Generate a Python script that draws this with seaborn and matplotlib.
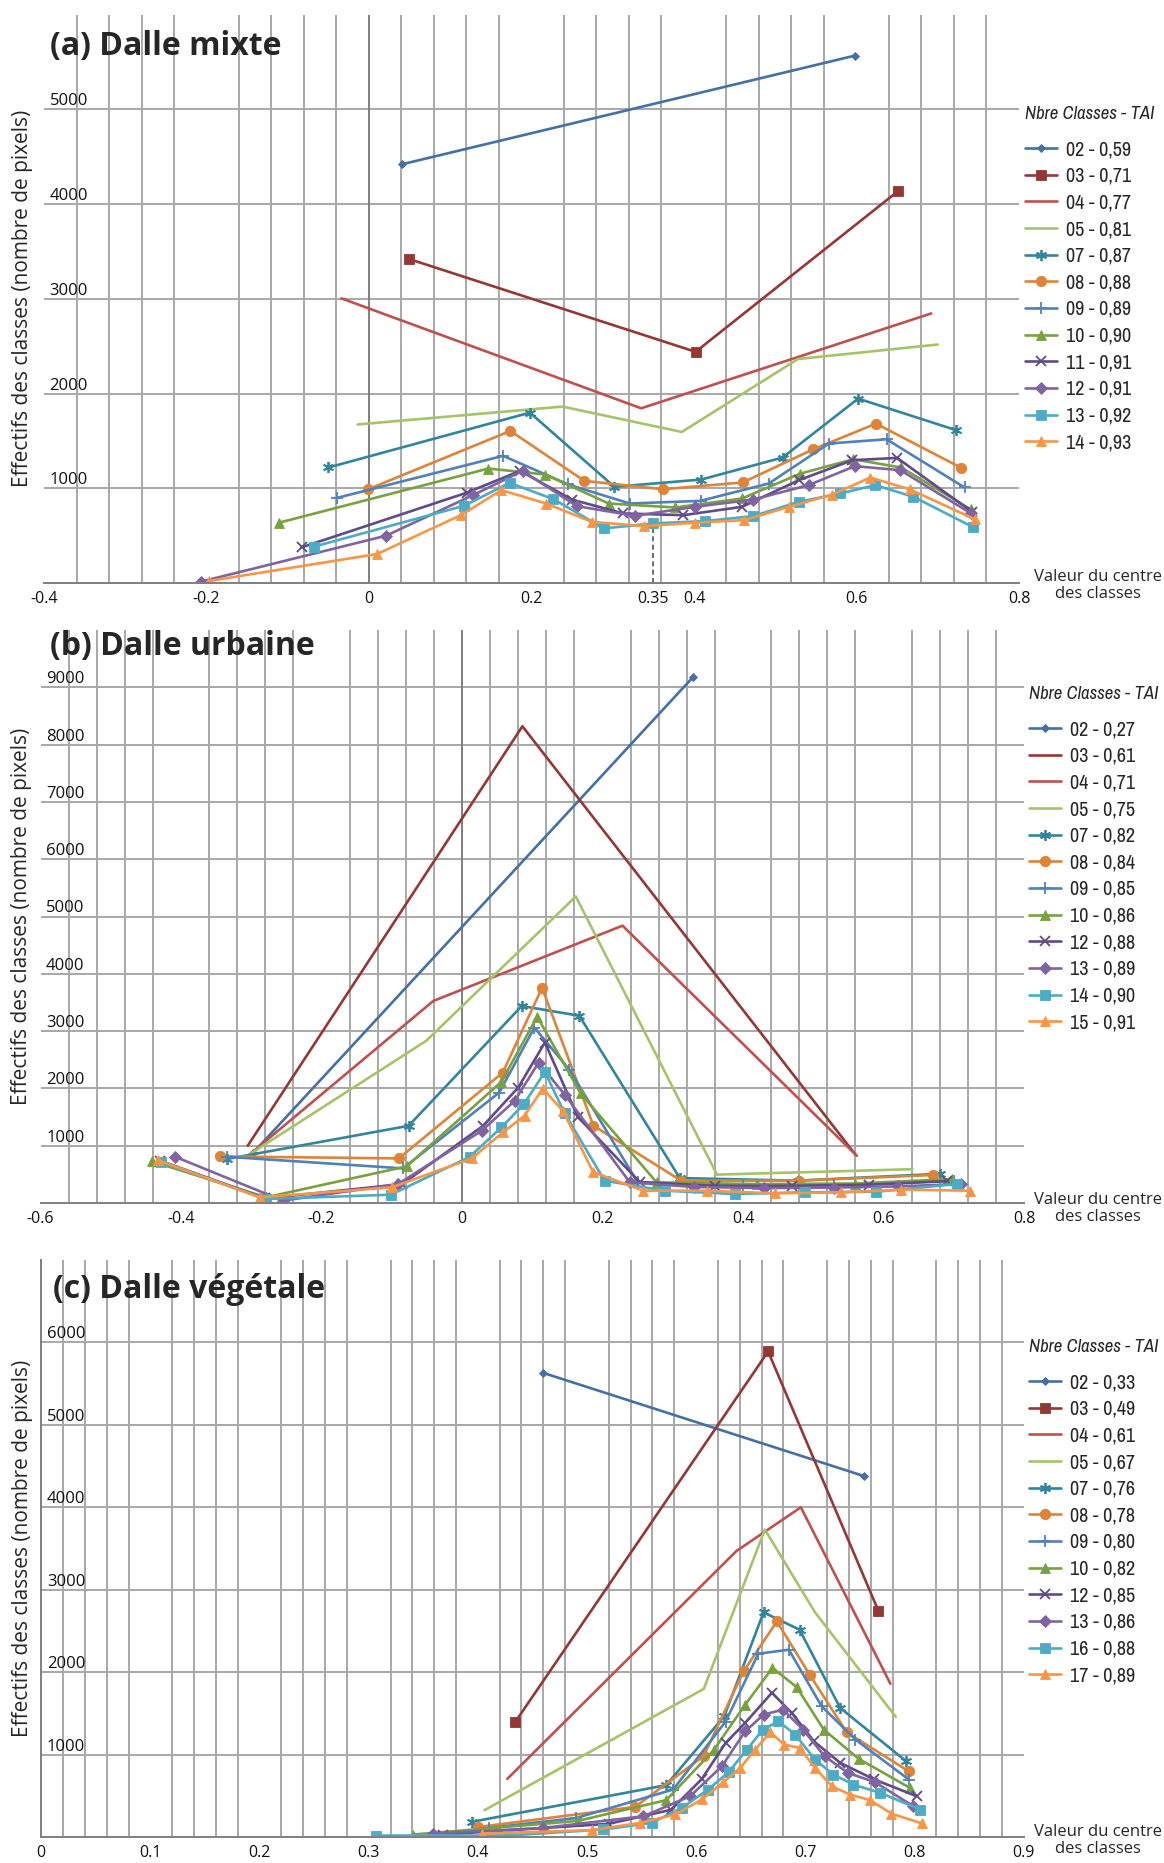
import numpy as np
import pandas as pd
import matplotlib
matplotlib.use("Agg")
import matplotlib.pyplot as plt
import seaborn as sns
from matplotlib import font_manager as fm

sns.set_theme(style="white")
plt.rcParams["font.family"] = ["Open Sans", "DejaVu Sans"]

# ---------------- data: panel (a) Dalle mixte ----------------
A_LABELS = ["02 - 0,59", "03 - 0,71", "04 - 0,77", "05 - 0,81", "07 - 0,87", "08 - 0,88",
            "09 - 0,89", "10 - 0,90", "11 - 0,91", "12 - 0,91", "13 - 0,92", "14 - 0,93"]
A02_X = [0.041, 0.598]
A02_Y = [4420, 5566]
A03_X = [0.049, 0.402, 0.651]
A03_Y = [3420, 2440, 4135]
A04_X = [-0.034, 0.335, 0.692]
A04_Y = [3004, 1844, 2845]
A05_X = [-0.014, 0.238, 0.385, 0.528, 0.700]
A05_Y = [1673, 1862, 1594, 2364, 2517]
A07_X = [-0.050, 0.198, 0.302, 0.409, 0.509, 0.602, 0.723]
A07_Y = [1219, 1798, 1015, 1092, 1324, 1946, 1612]
A08_X = [-0.001, 0.174, 0.265, 0.362, 0.460, 0.547, 0.624, 0.729]
A08_Y = [990, 1605, 1078, 990, 1061, 1412, 1682, 1215]
A09_X = [-0.039, 0.165, 0.245, 0.321, 0.408, 0.492, 0.566, 0.637, 0.733]
A09_Y = [899, 1342, 1040, 839, 867, 1050, 1472, 1517, 1008]
A10_X = [-0.111, 0.147, 0.217, 0.295, 0.377, 0.459, 0.531, 0.596, 0.655, 0.741]
A10_Y = [636, 1208, 1145, 839, 797, 892, 1155, 1306, 1219, 776]
A11_X = [-0.083, 0.120, 0.186, 0.250, 0.313, 0.387, 0.459, 0.529, 0.595, 0.650, 0.742]
A11_Y = [376, 952, 1183, 880, 734, 716, 804, 1085, 1296, 1320, 752]
A12_X = [-0.207, 0.021, 0.128, 0.189, 0.256, 0.327, 0.401, 0.473, 0.541, 0.598, 0.654, 0.741]
A12_Y = [14, 499, 927, 1183, 811, 709, 804, 881, 1033, 1233, 1191, 734]
A13_X = [-0.068, 0.117, 0.173, 0.227, 0.289, 0.350, 0.413, 0.473, 0.529, 0.580, 0.623, 0.670, 0.744]
A13_Y = [383, 815, 1057, 885, 576, 629, 653, 706, 857, 945, 1033, 910, 587]
A14_X = [-0.197, 0.010, 0.113, 0.163, 0.218, 0.274, 0.338, 0.401, 0.462, 0.517, 0.570, 0.617, 0.666, 0.746]
A14_Y = [21, 306, 716, 980, 839, 646, 600, 636, 664, 804, 934, 1113, 987, 671]
A_XTICKS = [-0.4, -0.2, 0, 0.2, 0.35, 0.4, 0.6, 0.8]
A_XTICKLABELS = ["-0.4", "-0.2", "0", "0.2", "0.35", "0.4", "0.6", "0.8"]
A_YTICKS = [1000, 2000, 3000, 4000, 5000]
A_MARK_X = 0.35
A_MARK_YTOP = 600

# ---------------- data: panel (b) Dalle urbaine ----------------
B_LABELS = ["02 - 0,27", "03 - 0,61", "04 - 0,71", "05 - 0,75", "07 - 0,82", "08 - 0,84",
            "09 - 0,85", "10 - 0,86", "12 - 0,88", "13 - 0,89", "14 - 0,90", "15 - 0,91"]
B02_X = [-0.297, 0.329]
B02_Y = [880, 9180]
B03_X = [-0.305, 0.086, 0.560]
B03_Y = [1000, 8320, 845]
B04_X = [-0.300, -0.041, 0.2285, 0.562]
B04_Y = [870, 3525, 4840, 824]
B05_X = [-0.310, -0.051, 0.162, 0.363, 0.641]
B05_Y = [790, 2830, 5350, 495, 590]
B07_X = [-0.335, -0.076, 0.085, 0.167, 0.310, 0.478, 0.681]
B07_Y = [767, 1347, 3438, 3268, 435, 390, 510]
B08_X = [-0.344, -0.090, 0.058, 0.114, 0.187, 0.312, 0.480, 0.670]
B08_Y = [813, 778, 2276, 3757, 1350, 390, 390, 488]
B09_X = [-0.335, -0.084, 0.053, 0.103, 0.153, 0.250, 0.400, 0.530, 0.700]
B09_Y = [807, 604, 1928, 3060, 2325, 360, 300, 310, 390]
B10_X = [-0.441, -0.279, -0.079, 0.056, 0.107, 0.169, 0.277, 0.420, 0.560, 0.697]
B10_Y = [726, 99, 639, 2114, 3252, 1911, 360, 330, 340, 418]
B12_X = [-0.430, -0.280, -0.085, 0.030, 0.080, 0.118, 0.165, 0.253, 0.360, 0.470, 0.580, 0.690]
B12_Y = [740, 80, 330, 1347, 2015, 2800, 1500, 366, 300, 300, 320, 380]
B13_X = [-0.409, -0.255, -0.091, 0.028, 0.075, 0.109, 0.147, 0.239, 0.330, 0.430, 0.530, 0.620, 0.710]
B13_Y = [810, 41, 331, 1260, 1783, 2450, 1878, 360, 280, 260, 270, 290, 330]
B14_X = [-0.428, -0.279, -0.101, 0.011, 0.056, 0.088, 0.118, 0.146, 0.203, 0.2885, 0.388, 0.488, 0.590, 0.704]
B14_Y = [708, 70, 145, 807, 1318, 1725, 2288, 1568, 389, 215, 157, 186, 197, 331]
B15_X = [-0.433, -0.288, -0.100, 0.014, 0.058, 0.089, 0.115, 0.144, 0.1865, 0.258, 0.349, 0.445, 0.539, 0.625, 0.723]
B15_Y = [749, 99, 273, 778, 1231, 1521, 1998, 1603, 542, 215, 215, 169, 186, 232, 215]
B_XTICKS = [-0.6, -0.4, -0.2, 0, 0.2, 0.4, 0.6, 0.8]
B_XTICKLABELS = ["-0.6", "-0.4", "-0.2", "0", "0.2", "0.4", "0.6", "0.8"]
B_YTICKS = [1000, 2000, 3000, 4000, 5000, 6000, 7000, 8000, 9000]

# ---------------- data: panel (c) Dalle végétale ----------------
C_LABELS = ["02 - 0,33", "03 - 0,49", "04 - 0,61", "05 - 0,67", "07 - 0,76", "08 - 0,78",
            "09 - 0,80", "10 - 0,82", "12 - 0,85", "13 - 0,86", "16 - 0,88", "17 - 0,89"]
C02_X = [0.460, 0.7535]
C02_Y = [5630, 4380]
C03_X = [0.434, 0.666, 0.767]
C03_Y = [1390, 5890, 2745]
C04_X = [0.427, 0.637, 0.696, 0.778]
C04_Y = [705, 3470, 4000, 1860]
C05_X = [0.406, 0.607, 0.663, 0.709, 0.783]
C05_Y = [325, 1796, 3730, 2725, 1457]
C07_X = [0.3945, 0.5726, 0.6258, 0.6618, 0.6948, 0.732, 0.7925]
C07_Y = [184, 629, 1465, 2725, 2515, 1566, 919]
C08_X = [0.400, 0.5442, 0.6068, 0.6435, 0.674, 0.704, 0.738, 0.7947]
C08_Y = [120, 366, 980, 2010, 2616, 1970, 1270, 798]
C09_X = [0.410, 0.490, 0.579, 0.627, 0.657, 0.685, 0.715, 0.746, 0.795]
C09_Y = [110, 230, 576, 1400, 2224, 2272, 1586, 1182, 697]
C10_X = [0.341, 0.4915, 0.5726, 0.616, 0.645, 0.670, 0.692, 0.717, 0.749, 0.796]
C10_Y = [30, 195, 447, 1052, 1606, 2051, 1820, 1303, 948, 596]
C12_X = [0.368, 0.520, 0.577, 0.605, 0.627, 0.645, 0.6695, 0.688, 0.708, 0.732, 0.763, 0.802]
C12_Y = [30, 160, 330, 700, 1140, 1385, 1750, 1500, 1160, 900, 700, 495]
C13_X = [0.359, 0.460, 0.5518, 0.5946, 0.6237, 0.645, 0.662, 0.6796, 0.698, 0.7177, 0.739, 0.764, 0.799]
C13_Y = [42, 110, 252, 495, 859, 1283, 1485, 1545, 1303, 980, 778, 665, 374]
C16_X = [0.307, 0.428, 0.515, 0.5595, 0.587, 0.611, 0.6297, 0.6466, 0.6612, 0.6755, 0.6908, 0.709, 0.7259, 0.744, 0.7688, 0.8055]
C16_Y = [18, 18, 91, 172, 354, 576, 786, 1061, 1303, 1404, 1242, 939, 757, 636, 535, 333]
C17_X = [0.404, 0.5045, 0.5488, 0.5808, 0.6053, 0.625, 0.6404, 0.6542, 0.6679, 0.6808, 0.6948, 0.709, 0.7244, 0.741, 0.7596, 0.7788, 0.807]
C17_Y = [42, 83, 172, 273, 455, 665, 838, 1061, 1270, 1121, 1081, 838, 616, 515, 446, 285, 164]
C_XTICKS = [0, 0.1, 0.2, 0.3, 0.4, 0.5, 0.6, 0.7, 0.8, 0.9]
C_XTICKLABELS = ["0", "0.1", "0.2", "0.3", "0.4", "0.5", "0.6", "0.7", "0.8", "0.9"]
C_YTICKS = [1000, 2000, 3000, 4000, 5000, 6000]

# ---------------- styles ----------------
COLORS = ["#4470A6", "#953735", "#C0504D", "#A6C36A", "#31859C", "#DD8438",
          "#4F81BD", "#77A23D", "#5F4B8B", "#8064A2", "#4BACC6", "#F79646"]
STAR = (6, 2, 0)
MARKERS_A = ["D", "s", None, None, STAR, "o", "+", "^", "x", "D", "s", "^"]
MARKERS_B = ["D", None, None, None, STAR, "o", "+", "^", "x", "D", "s", "^"]
MARKERS_C = ["D", "s", None, None, STAR, "o", "+", "^", "x", "D", "s", "^"]
MSIZE = [4.5, 7, 0, 0, 8, 7.5, 8, 7.5, 6.5, 6, 7, 7.5]

names = sorted({f.name for f in fm.fontManager.ttflist})
narrow = [n for n in names if "Narrow" in n or "Condensed" in n]
if "Liberation Sans Narrow" in names:
    LEG_FONT = ["Liberation Sans Narrow", "DejaVu Sans"]
    LEG_SIZE = 15
    LEG_SPACING = 0.36
elif narrow:
    LEG_FONT = [narrow[0], "DejaVu Sans"]
    LEG_SIZE = 14.5
    LEG_SPACING = 0.38
else:
    LEG_FONT = ["Roboto", "DejaVu Sans"]
    LEG_SIZE = 13.5
    LEG_SPACING = 0.48
TITLE_SIZE = LEG_SIZE * 0.93

W, H = 1164, 1863
fig = plt.figure(figsize=(W / 100, H / 100), dpi=100)
GRID = "#A8A8A8"
AXC = "#7F7F7F"


def px_axes(left, right, top, bottom):
    return fig.add_axes([left / W, 1 - bottom / H, (right - left) / W, (bottom - top) / H])


def build(ax, series, labels, markers, xlim, ylim, xticks, xticklabels, yticks,
          minor, zero_line, title, title_xy, ylab_px, leg_xy, note_y):
    ax.set_xlim(*xlim)
    ax.set_ylim(*ylim)
    ax.set_axisbelow(True)
    for i, (xs, ys) in enumerate(series):
        c = COLORS[i]
        m = markers[i]
        kw = dict(x=xs, y=ys, ax=ax, color=c, linewidth=1.9, sort=False,
                  estimator=None, label=labels[i])
        if m is not None:
            unfilled = m in ("x", "+") or m == STAR
            kw.update(marker=m, markersize=MSIZE[i], markeredgecolor=c,
                      markerfacecolor=c, markeredgewidth=1.3 if unfilled else 0.6)
        sns.lineplot(**kw)
    ax.set_xticks(xticks)
    ax.set_xticklabels(xticklabels)
    ax.set_xticks(minor, minor=True)
    ax.set_yticks(yticks)
    ax.set_yticklabels([str(v) for v in yticks])
    ax.grid(False)
    ax.grid(True, which="minor", axis="x", color=GRID, linewidth=1.4)
    ax.grid(True, which="major", axis="y", color=GRID, linewidth=1.4)
    for s in ["top", "right", "left"]:
        ax.spines[s].set_visible(False)
    ax.spines["bottom"].set_color(AXC)
    ax.spines["bottom"].set_linewidth(1.4)
    if zero_line:
        ax.axvline(0, color=AXC, linewidth=1.4, zorder=1.5)
    else:
        ax.spines["left"].set_visible(True)
        ax.spines["left"].set_color(AXC)
        ax.spines["left"].set_linewidth(1.4)
    ax.tick_params(axis="x", which="major", length=4, width=1.2, color=AXC,
                   labelsize=11.5, pad=2, labelcolor="#111111")
    ax.tick_params(axis="x", which="minor", length=0)
    ax.tick_params(axis="y", which="major", length=0, pad=-4, labelsize=12,
                   labelcolor="#111111")
    for t in ax.get_yticklabels():
        t.set_horizontalalignment("left")
        t.set_verticalalignment("bottom")
    ax.set_xlabel("")
    ax.set_ylabel("Effectifs des classes (nombre de pixels)", fontsize=15)
    bb = ax.get_position()
    ax.yaxis.set_label_coords(-(ylab_px) / (bb.width * W), 0.5)
    ax.yaxis.label.set_verticalalignment("center")
    fig.text(title_xy[0] / W, 1 - title_xy[1] / H, title, fontsize=23,
             fontweight="bold", ha="left", va="center")
    fig.text(1098 / W, 1 - note_y / H, "Valeur du centre\ndes classes",
             fontsize=12, ha="center", va="center", linespacing=1.15)
    handles, labs = ax.get_legend_handles_labels()
    leg = ax.legend(handles, labs, loc="upper left",
                    bbox_to_anchor=(leg_xy[0] / W, 1 - leg_xy[1] / H),
                    bbox_transform=fig.transFigure, frameon=False,
                    title="Nbre Classes - TAI", alignment="left",
                    prop={"family": LEG_FONT, "size": LEG_SIZE},
                    title_fontproperties={"family": LEG_FONT, "size": TITLE_SIZE,
                                          "style": "italic"},
                    handlelength=1.6, handletextpad=0.45, labelspacing=LEG_SPACING,
                    borderpad=0, borderaxespad=0, numpoints=1)
    leg._legend_box.sep = 13
    return ax


# panel (a)
axA = px_axes(44, 1019, 14.5, 583)
build(axA, [(A02_X, A02_Y), (A03_X, A03_Y), (A04_X, A04_Y), (A05_X, A05_Y),
            (A07_X, A07_Y), (A08_X, A08_Y), (A09_X, A09_Y), (A10_X, A10_Y),
            (A11_X, A11_Y), (A12_X, A12_Y), (A13_X, A13_Y), (A14_X, A14_Y)],
      A_LABELS, MARKERS_A, (-0.4, 0.8), (0, 6000), A_XTICKS, A_XTICKLABELS, A_YTICKS,
      np.arange(-0.36, 0.7601, 0.04), True, "(a) Dalle mixte", (50, 47),
      21, (1025, 106), 585.5)
axA.plot([A_MARK_X, A_MARK_X], [0, A_MARK_YTOP], linestyle=(0, (3, 2)),
         color="#555555", linewidth=1.2, zorder=1.6)

# panel (b)
axB = px_axes(40.5, 1024, 630, 1203)
build(axB, [(B02_X, B02_Y), (B03_X, B03_Y), (B04_X, B04_Y), (B05_X, B05_Y),
            (B07_X, B07_Y), (B08_X, B08_Y), (B09_X, B09_Y), (B10_X, B10_Y),
            (B12_X, B12_Y), (B13_X, B13_Y), (B14_X, B14_Y), (B15_X, B15_Y)],
      B_LABELS, MARKERS_B, (-0.6, 0.8), (0, 10000), B_XTICKS, B_XTICKLABELS, B_YTICKS,
      np.arange(-0.56, 0.7601, 0.04), True, "(b) Dalle urbaine", (50, 647),
      19, (1029, 686), 1208.5)

# panel (c)
axC = px_axes(41.3, 1023.5, 1260, 1837)
build(axC, [(C02_X, C02_Y), (C03_X, C03_Y), (C04_X, C04_Y), (C05_X, C05_Y),
            (C07_X, C07_Y), (C08_X, C08_Y), (C09_X, C09_Y), (C10_X, C10_Y),
            (C12_X, C12_Y), (C13_X, C13_Y), (C16_X, C16_Y), (C17_X, C17_Y)],
      C_LABELS, MARKERS_C, (0, 0.9), (0, 7000), C_XTICKS, C_XTICKLABELS, C_YTICKS,
      np.arange(0.02, 0.8801, 0.02), False, "(c) Dalle végétale", (53, 1289),
      19, (1029, 1339), 1840.5)

fig.savefig("out.png", dpi=100, facecolor="white")
